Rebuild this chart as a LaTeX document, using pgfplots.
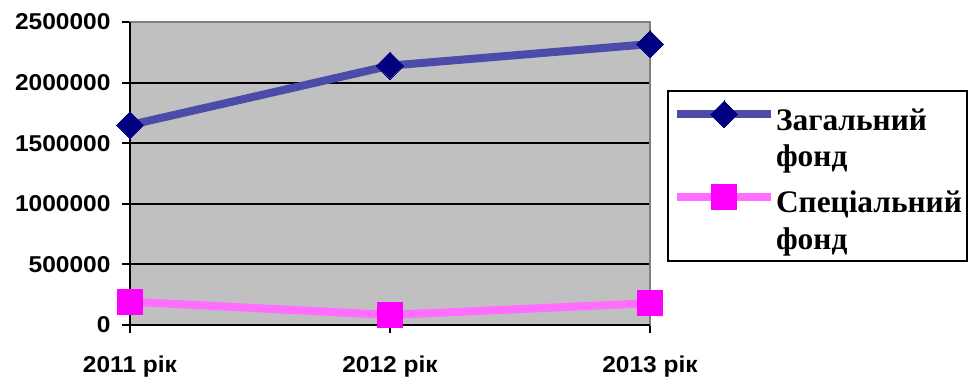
\documentclass[border=0pt]{standalone}
\usepackage{fontspec}
\setmainfont{Liberation Serif}
\newfontfamily\tickfont{Liberation Sans}[FakeStretch=1.07]
\usepackage{pgfplots}
\pgfplotsset{compat=1.18}
\definecolor{plotgray}{RGB}{192,192,192}
\definecolor{framegray}{RGB}{128,128,128}
\definecolor{navyline}{RGB}{75,75,170}
\definecolor{navymark}{RGB}{0,0,128}
\definecolor{pinkline}{RGB}{255,110,255}
\definecolor{pinkmark}{RGB}{255,0,255}

\begin{document}
\begin{tikzpicture}[x=1bp,y=1bp]
\useasboundingbox (0,0) rectangle (972,381);
\begin{axis}[
  at={(130bp,56bp)}, anchor=south west,
  scale only axis, width=520bp, height=303bp,
  xmin=0, xmax=2, ymin=0, ymax=2500000,
  clip=false,
  xtick={0,1,2}, xticklabels={2011 рік, 2012 рік, 2013 рік},
  ytick={0,500000,1000000,1500000,2000000,2500000},
  yticklabels={0,500000,1000000,1500000,2000000,2500000},
  scaled y ticks=false,
  yticklabel style={font=\tickfont\bfseries\fontsize{23}{26}\selectfont, xshift=-8bp},
  xticklabel style={font=\tickfont\bfseries\fontsize{23}{26}\selectfont, yshift=-19bp},
  axis background/.style={fill=plotgray},
  axis line style={draw=framegray, line width=2bp},
  ymajorgrids, grid style={black, line width=2bp},
  xtick pos=bottom, ytick pos=left,
  tick align=outside, major tick length=8bp,
  tick style={black, line width=2bp},
  legend style={at={(rel axis cs:1.0327,0.7756)}, anchor=north west,
    draw=black, line width=2bp, fill=white,
    inner xsep=5bp, inner ysep=10bp, row sep=16bp, column sep=1bp,
    font=\bfseries\fontsize{31.5}{37}\selectfont,
    nodes={align=left, inner sep=0bp}, legend cell align=left},
  legend image code/.code={\draw[mark repeat=2,mark phase=2,#1] plot coordinates {(0bp,24bp)(47bp,24bp)(94bp,24bp)};},
]
% left and bottom axis lines in black
\draw[black, line width=2bp] (rel axis cs:0,1) -- (rel axis cs:0,0) -- (rel axis cs:1,0);
\addplot[navyline, line width=8bp, mark=square*, mark size=9.5bp,
  mark options={rotate=45, fill=navymark, draw=navymark, line width=0bp}]
  coordinates {(0,1650000) (1,2140000) (2,2318000)};
\addlegendentry{Загальний\\фонд}
\addplot[pinkline, line width=8bp, mark=square*, mark size=12.5bp,
  mark options={fill=pinkmark, draw=pinkmark, line width=0bp}]
  coordinates {(0,192000) (1,83000) (2,180000)};
\addlegendentry{Спеціальний\\фонд}
\end{axis}
\end{tikzpicture}
\end{document}
